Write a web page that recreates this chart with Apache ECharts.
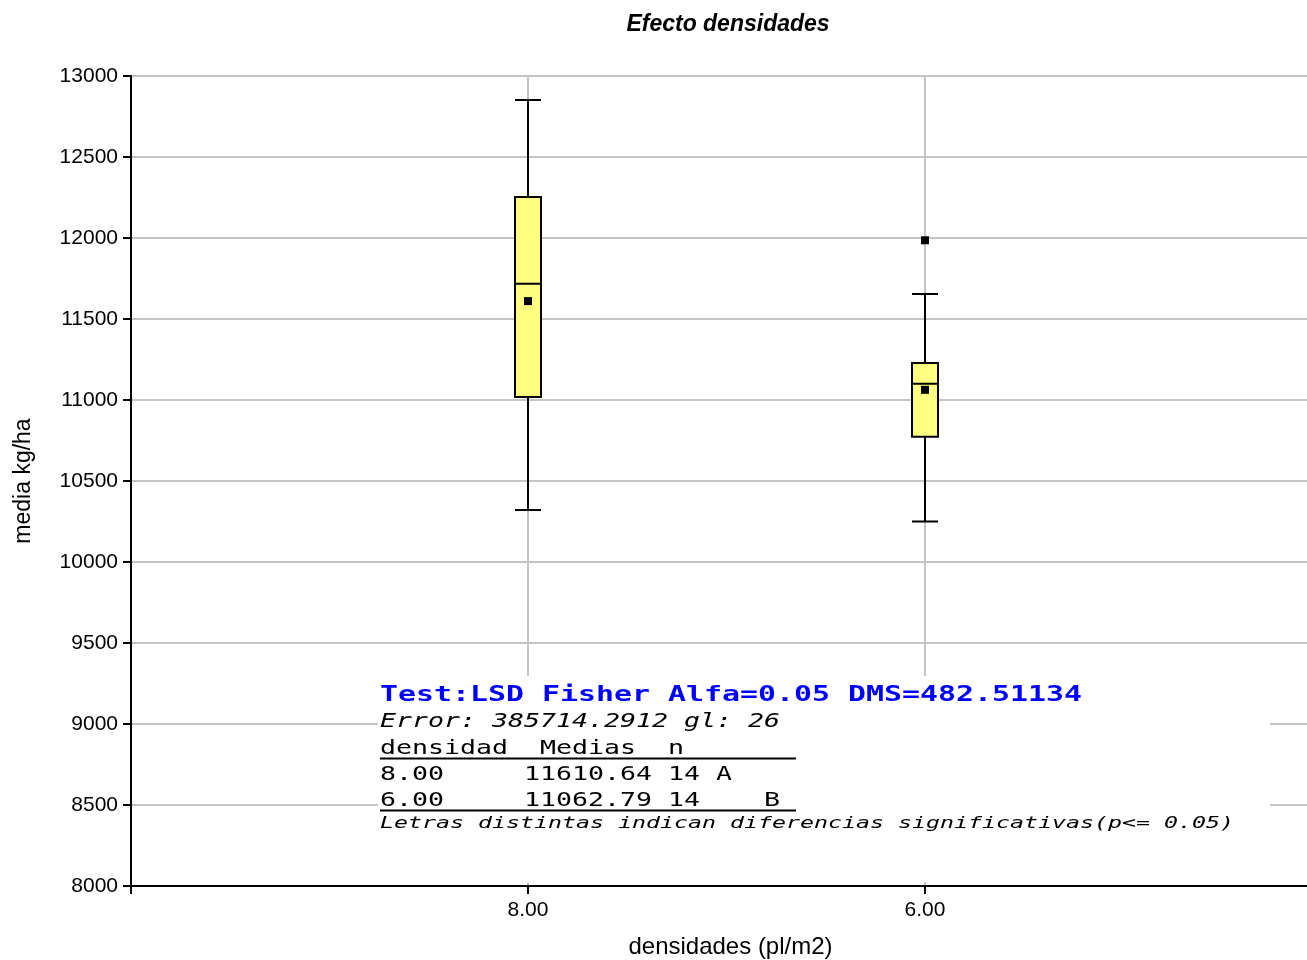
<!DOCTYPE html>
<html>
<head>
<meta charset="utf-8">
<title>Efecto densidades</title>
<script src="https://cdn.jsdelivr.net/npm/echarts@6/dist/echarts.min.js"></script>
<style>
  html, body { margin: 0; padding: 0; background: #fff; }
  #chart { width: 1307px; height: 960px; }
</style>
</head>
<body>
<div id="chart"></div>
<script>
// categories (padded with empty slots so the boxes sit at 1/3 and 2/3)
var categories = ['', '8.00', '6.00', ''];
// [category index, min, Q1, median, Q3, max]
var boxData = [
    [1, 10321, 11018, 11718, 12253, 12852],
    [2, 10250, 10773, 11100, 11229, 11655]
];
var means = [[1, 11610.64], [2, 11062.79]];
var outliers = [[2, 11986]];
var yTicks = { min: 8000, max: 13000, step: 500 };

// LSD Fisher test text block
var testHeader = 'Test:LSD Fisher Alfa=0.05 DMS=482.51134';
var errorLine = 'Error: 385714.2912 gl: 26';
var tableLines = [
    'densidad  Medias  n',
    '8.00     11610.64 14 A',
    '6.00     11062.79 14    B'
];
var footNote = 'Letras distintas indican diferencias significativas(p<= 0.05)';

var chart = echarts.init(document.getElementById('chart'));

var mono = '"DejaVu Sans Mono", "Liberation Mono", monospace';
var sans = 'Liberation Sans, Arial, sans-serif';

// monospace line, stretched so the character pitch matches the original
function monoText(str, y, size, pitch, extra) {
    return {
        type: 'text',
        x: 380,
        y: y,
        scaleX: pitch / (0.602 * size),
        z: 101,
        style: Object.assign({
            text: str,
            x: 0,
            y: 0,
            fill: '#000',
            font: size + 'px ' + mono,
            textAlign: 'left',
            textVerticalAlign: 'middle'
        }, extra || {})
    };
}

var option = {
    backgroundColor: '#fff',
    animation: false,
    title: {
        text: 'Efecto densidades',
        left: 723,
        top: 8,
        textAlign: 'center',
        textStyle: {
            fontFamily: sans,
            fontSize: 23,
            fontWeight: 'bold',
            fontStyle: 'italic',
            color: '#000'
        }
    },
    grid: {
        left: 131,
        top: 76,
        bottom: 74,
        right: -15,
        outerBoundsMode: 'none',
        containLabel: false
    },
    xAxis: {
        type: 'category',
        data: categories,
        boundaryGap: false,
        name: 'densidades (pl/m2)',
        nameLocation: 'middle',
        nameGap: 49,
        nameTextStyle: { fontFamily: sans, fontSize: 24, color: '#000', padding: [0, 0, 0, 8] },
        axisLine: { lineStyle: { color: '#000', width: 2 } },
        axisTick: { show: true, length: 8, lineStyle: { color: '#000', width: 2 } },
        axisLabel: { fontFamily: sans, fontSize: 21, color: '#000', margin: 14 },
        splitLine: { show: true, lineStyle: { color: '#c4c4c4', width: 2 } }
    },
    yAxis: {
        type: 'value',
        min: yTicks.min,
        max: yTicks.max,
        interval: yTicks.step,
        name: 'media kg/ha',
        nameLocation: 'middle',
        nameRotate: 90,
        nameGap: 96,
        nameTextStyle: { fontFamily: sans, fontSize: 23, color: '#000' },
        axisLine: { show: true, lineStyle: { color: '#000', width: 2 } },
        axisTick: { show: true, length: 8, lineStyle: { color: '#000', width: 2 } },
        axisLabel: {
            fontFamily: sans,
            fontSize: 21,
            color: '#000',
            margin: 13,
            formatter: function (v) { return String(v); }
        },
        splitLine: { show: true, lineStyle: { color: '#c4c4c4', width: 2 } }
    },
    series: [
        {
            name: 'box',
            type: 'boxplot',
            boxWidth: [26, 26],
            encode: { x: 0, y: [1, 2, 3, 4, 5] },
            itemStyle: {
                color: '#ffff80',
                borderColor: '#000',
                borderWidth: 2
            },
            data: boxData,
            z: 3
        },
        {
            name: 'media',
            type: 'scatter',
            symbol: 'rect',
            symbolSize: 8,
            itemStyle: { color: '#000', opacity: 1 },
            data: means,
            z: 5
        },
        {
            name: 'atipico',
            type: 'scatter',
            symbol: 'rect',
            symbolSize: 8,
            itemStyle: { color: '#000', opacity: 1 },
            data: outliers,
            z: 5
        }
    ],
    graphic: [
        {
            type: 'rect',
            z: 100,
            shape: { x: 378, y: 676, width: 892, height: 206 },
            style: { fill: '#fff' }
        },
        monoText(testHeader, 695, 22, 18, { fill: '#0000ff', font: 'bold 22px ' + mono }),
        monoText(errorLine, 722, 19, 16, { font: 'italic 19px ' + mono }),
        monoText(tableLines[0], 749, 20, 16),
        monoText(tableLines[1], 775, 20, 16),
        monoText(tableLines[2], 801, 20, 16),
        monoText(footNote, 824, 16, 14, { font: 'italic 16px ' + mono }),
        {
            type: 'line',
            z: 101,
            shape: { x1: 380, y1: 758.5, x2: 796, y2: 758.5 },
            style: { stroke: '#000', lineWidth: 2 }
        },
        {
            type: 'line',
            z: 101,
            shape: { x1: 380, y1: 810.5, x2: 796, y2: 810.5 },
            style: { stroke: '#000', lineWidth: 2 }
        }
    ]
};

chart.setOption(option);
</script>
</body>
</html>
